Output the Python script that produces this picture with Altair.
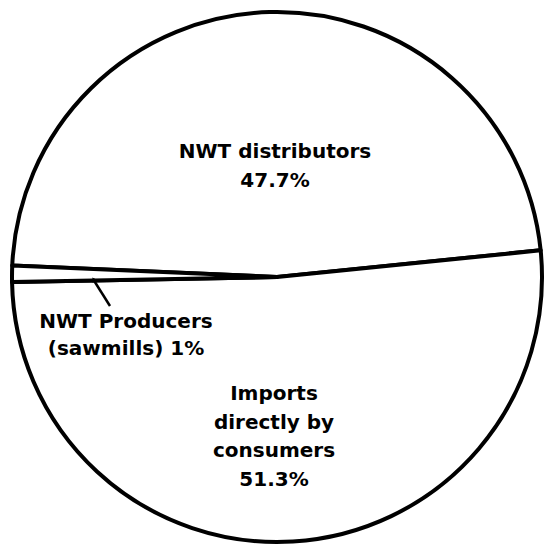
import math

import altair as alt
import pandas as pd

# Sources of supply, share of the total (%)
sources = ["NWT distributors", "Imports directly by consumers", "NWT Producers (sawmills)"]
shares = [47.7, 51.3, 1.0]
label_lines = [
    ["NWT distributors", "{v}%"],
    ["Imports", "directly by", "consumers", "{v}%"],
    ["NWT Producers", "(sawmills) {v}%"],
]

df = pd.DataFrame({
    "source": sources,
    "share": shares,
    "slot": list(range(len(sources))),
    "label": ["\n".join(lines).format(v=f"{v:g}") for lines, v in zip(label_lines, shares)],
})

# distributors slice sits across the top, its edges just above 3 and 9 o'clock
start = math.radians(-87.5)
theta_scale = alt.Scale(domain=[0, sum(shares)], range=[start, start + 2 * math.pi])

base = alt.Chart(df)

pie = base.mark_arc(
    outerRadius=265, fill="white", stroke="black", strokeWidth=4, strokeJoin="round"
).encode(
    theta=alt.Theta("share:Q", stack=True, scale=theta_scale),
    order=alt.Order("slot:Q"),
)

text_style = dict(
    font="DejaVu Sans", fontWeight="bold", fontSize=20, lineHeight=28.5,
    lineBreak="\n", align="center", baseline="middle", color="black",
)


def label(slot, x, y, **kw):
    style = {**text_style, **kw}
    return base.transform_filter(alt.datum.slot == slot).mark_text(**style).encode(
        text="label:N", x=alt.value(x), y=alt.value(y)
    )


# y is the first line of each block
dist_label = label(0, 266, 147)
imports_label = label(1, 265, 389)
prod_label = label(2, 117, 317, lineHeight=27)

# leader from the producers label to its thin slice
pointer = base.transform_filter(alt.datum.slot == 2).mark_rule(
    color="black", strokeWidth=2.5
).encode(x=alt.value(101), y=alt.value(301), x2=alt.value(84), y2=alt.value(274))

pointer_tip = base.transform_filter(alt.datum.slot == 2).mark_point(
    shape="triangle", filled=True, color="black", size=28, angle=328, opacity=1
).encode(x=alt.value(85), y=alt.value(275))

chart = alt.layer(pie, dist_label, imports_label, prod_label, pointer, pointer_tip).properties(
    width=536,
    height=544,
    padding={"left": 9, "top": 5, "right": 0, "bottom": 0},
    autosize=alt.AutoSizeParams(type="none"),
    background="white",
).configure_view(stroke=None)

chart.save("out.html", embed_options={"renderer": "svg", "actions": False})
